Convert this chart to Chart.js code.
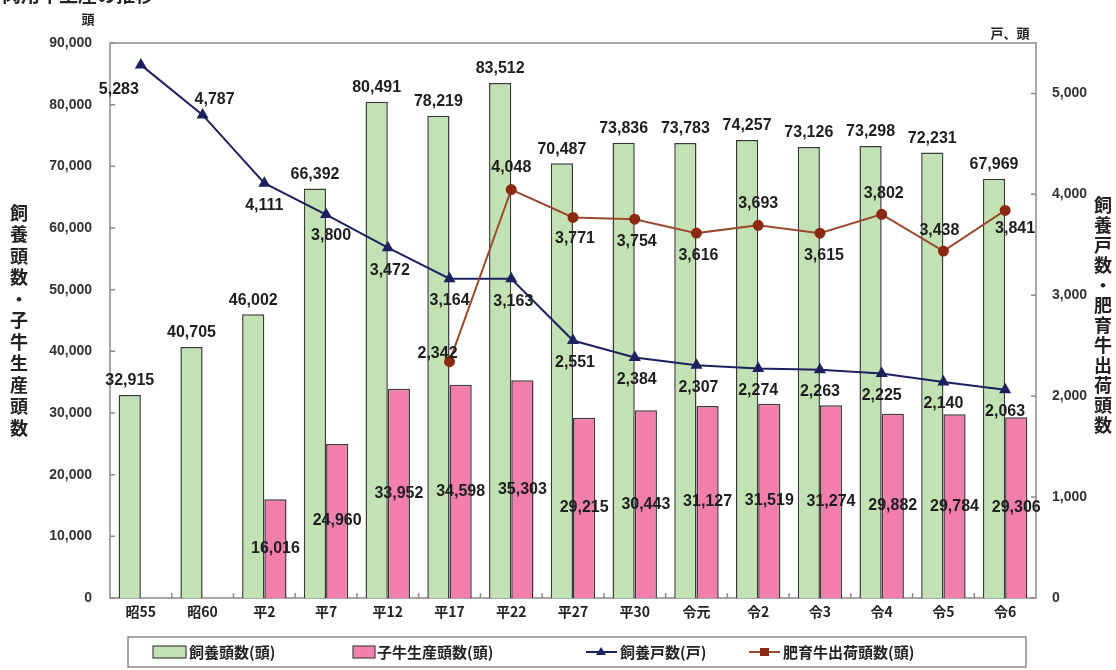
<!DOCTYPE html>
<html>
<head>
<meta charset="utf-8">
<script src="https://cdn.jsdelivr.net/npm/chart.js@4"></script>
<style>
  html, body { margin: 0; padding: 0; background: #fff; }
  #wrap { width: 1116px; height: 670px; position: relative; }
</style>
</head>
<body>
<div id="wrap"><canvas id="c" width="1116" height="670"></canvas></div>
<script>
// data
const categories = ['昭55', '昭60', '平2', '平7', '平12', '平17', '平22', '平27', '平30', '令元', '令2', '令3', '令4', '令5', '令6'];
const headCount = [32915, 40705, 46002, 66392, 80491, 78219, 83512, 70487, 73836, 73783, 74257, 73126, 73298, 72231, 67969];
const calfCount = [null, null, 16016, 24960, 33952, 34598, 35303, 29215, 30443, 31127, 31519, 31274, 29882, 29784, 29306];
const farmCount = [5283, 4787, 4111, 3800, 3472, 3164, 3163, 2551, 2384, 2307, 2274, 2263, 2225, 2140, 2063];
const shippedCount = [null, null, null, null, null, 2342, 4048, 3771, 3754, 3616, 3693, 3615, 3802, 3438, 3841];
const leftTicks = [0, 10000, 20000, 30000, 40000, 50000, 60000, 70000, 80000, 90000];
const rightTicks = [0, 1000, 2000, 3000, 4000, 5000];

const GREEN = '#c2e2b4', PINK = '#f27eab', NAVY = '#1d2160', BROWN = '#9a4a2e', BROWN_PT = '#8a2a12';
const NUM_FONT = 'bold 16px "Liberation Sans", Arial, sans-serif';
const JP_FONT = '"Noto Sans CJK JP", sans-serif';
const TICK_FONT = { family: '"Liberation Sans", Arial, sans-serif', size: 14, weight: 'bold' };

// label offsets for the line series (dx, dy from the point)
const farmOffsets = [[-22, 25], [12, -15], [0, 22], [5, 21], [2, 23], [0, 22], [2, 23], [2, 22], [2, 22], [2, 22], [0, 22], [0, 22], [0, 22], [0, 22], [0, 22]];
const shipOffsets = [null, null, null, null, null, [-12, -8], [0, -22], [2, 21], [2, 22], [2, 22], [0, -22], [4, 22], [2, -21], [-4, -20], [10, 18]];

const fmt = v => v.toLocaleString('en-US');

const labelPlugin = {
  id: 'valueLabels',
  afterDatasetsDraw(chart) {
    const ctx = chart.ctx;
    ctx.save();
    ctx.font = NUM_FONT;
    ctx.fillStyle = '#1e1e1e';
    ctx.textAlign = 'center';
    ctx.textBaseline = 'middle';
    chart.data.datasets.forEach((ds, di) => {
      const meta = chart.getDatasetMeta(di);
      meta.data.forEach((el, i) => {
        const v = ds.data[i];
        if (v == null) return;
        if (di === 0) {
          ctx.fillText(fmt(v), el.x, el.y - 14);
        } else if (di === 1) {
          ctx.fillText(fmt(v), el.x, (el.y + el.base) / 2);
        } else {
          const off = (di === 2 ? farmOffsets : shipOffsets)[i];
          ctx.fillText(fmt(v), el.x + off[0], el.y + off[1]);
        }
      });
    });
    ctx.restore();
  }
};

const framePlugin = {
  id: 'frame',
  beforeDatasetsDraw(chart) {
    const { ctx, chartArea: a, scales } = chart;
    ctx.save();
    ctx.strokeStyle = '#8a8a8a';
    ctx.lineWidth = 1.5;
    ctx.strokeRect(a.left, a.top, a.right - a.left, a.bottom - a.top);
    ctx.beginPath();
    leftTicks.forEach(t => { const y = scales.y.getPixelForValue(t); ctx.moveTo(a.left, y); ctx.lineTo(a.left + 5, y); });
    rightTicks.forEach(t => { const y = scales.y1.getPixelForValue(t); ctx.moveTo(a.right, y); ctx.lineTo(a.right - 5, y); });
    const step = (a.right - a.left) / categories.length;
    for (let i = 1; i < categories.length; i++) { const x = a.left + step * i; ctx.moveTo(x, a.bottom); ctx.lineTo(x, a.bottom - 5); }
    ctx.stroke();
    ctx.restore();
  },
  afterDraw(chart) {
    const ctx = chart.ctx;
    ctx.save();
    ctx.fillStyle = '#222';
    ctx.textBaseline = 'middle';
    // title, cut at the top edge as in the reference
    ctx.font = 'bold 19px ' + JP_FONT;
    ctx.textAlign = 'left';
    ctx.fillText('肉用牛生産の推移', 2, -5);
    ctx.textAlign = 'center';
    // units
    ctx.font = 'bold 13px ' + JP_FONT;
    ctx.fillText('頭', 88, 19);
    ctx.fillText('戸、頭', 1010, 33);
    // stacked vertical axis titles
    ctx.font = 'bold 18px ' + JP_FONT;
    const leftTitle = '飼養頭数・子牛生産頭数';
    [...leftTitle].forEach((ch, i) => ctx.fillText(ch, 19, 213 + i * 21.5));
    const rightTitle = '飼養戸数・肥育牛出荷頭数';
    [...rightTitle].forEach((ch, i) => ctx.fillText(ch, 1103, 205 + i * 20));
    // legend
    ctx.strokeStyle = '#8a8a8a';
    ctx.lineWidth = 1.5;
    ctx.strokeRect(128, 637, 898, 30);
    ctx.textAlign = 'left';
    ctx.font = 'bold 15px ' + JP_FONT;
    const ly = 652;
    ctx.lineWidth = 1.2;
    ctx.strokeStyle = '#444';
    ctx.fillStyle = GREEN; ctx.fillRect(153, ly - 6, 33, 12); ctx.strokeRect(153, ly - 6, 33, 12);
    ctx.fillStyle = PINK; ctx.fillRect(353, ly - 6, 22, 12); ctx.strokeRect(353, ly - 6, 22, 12);
    ctx.lineWidth = 2;
    ctx.strokeStyle = NAVY; ctx.beginPath(); ctx.moveTo(586, ly); ctx.lineTo(617, ly); ctx.stroke();
    ctx.fillStyle = NAVY; ctx.beginPath(); ctx.moveTo(601, ly - 5); ctx.lineTo(606, ly + 3); ctx.lineTo(596, ly + 3); ctx.closePath(); ctx.fill();
    ctx.strokeStyle = BROWN; ctx.beginPath(); ctx.moveTo(749, ly); ctx.lineTo(780, ly); ctx.stroke();
    ctx.fillStyle = BROWN_PT; ctx.fillRect(760, ly - 4, 9, 8);
    ctx.fillStyle = '#222';
    ctx.fillText('飼養頭数(頭)', 189, ly);
    ctx.fillText('子牛生産頭数(頭)', 377, ly);
    ctx.fillText('飼養戸数(戸)', 620, ly);
    ctx.fillText('肥育牛出荷頭数(頭)', 783, ly);
    ctx.restore();
  }
};

new Chart(document.getElementById('c'), {
  data: {
    labels: categories,
    datasets: [
      { type: 'bar', label: '飼養頭数(頭)', data: headCount, yAxisID: 'y', backgroundColor: GREEN, borderColor: '#3a3a3a', borderWidth: 1.5, order: 2, categoryPercentage: 0.72, barPercentage: 1.0 },
      { type: 'bar', label: '子牛生産頭数(頭)', data: calfCount, yAxisID: 'y', backgroundColor: PINK, borderColor: '#3a3a3a', borderWidth: 1.5, order: 2, categoryPercentage: 0.72, barPercentage: 1.0 },
      { type: 'line', label: '飼養戸数(戸)', data: farmCount, yAxisID: 'y1', borderColor: NAVY, backgroundColor: NAVY, borderWidth: 2, pointStyle: 'triangle', pointRadius: 5, tension: 0, order: 1 },
      { type: 'line', label: '肥育牛出荷頭数(頭)', data: shippedCount, yAxisID: 'y1', borderColor: BROWN, backgroundColor: BROWN_PT, pointBorderColor: BROWN_PT, borderWidth: 2, pointStyle: 'circle', pointRadius: 4.5, tension: 0, order: 0, spanGaps: false }
    ]
  },
  options: {
    responsive: false,
    animation: false,
    layout: { padding: { top: 43, bottom: 44, left: 0, right: 0 } },
    plugins: { legend: { display: false }, tooltip: { enabled: false } },
    scales: {
      x: {
        grid: { display: false, drawTicks: false },
        border: { display: false },
        ticks: { color: '#222', padding: 5, font: { family: JP_FONT, size: 14, weight: 'bold' } },
        afterFit: s => { s.height = 28; }
      },
      y: {
        position: 'left', min: 0, max: 90000,
        grid: { display: false, drawTicks: false },
        border: { display: false },
        afterBuildTicks: s => { s.ticks = leftTicks.map(v => ({ value: v })); },
        ticks: { padding: 18, color: '#333', font: TICK_FONT, autoSkip: false, callback: v => fmt(v) },
        afterFit: s => { s.width = 110; }
      },
      y1: {
        position: 'right', min: 0, max: 5500,
        grid: { display: false, drawTicks: false },
        border: { display: false },
        afterBuildTicks: s => { s.ticks = rightTicks.map(v => ({ value: v })); },
        ticks: { padding: 16, color: '#333', font: TICK_FONT, autoSkip: false, callback: v => fmt(v) },
        afterFit: s => { s.width = 80; }
      }
    }
  },
  plugins: [framePlugin, labelPlugin]
});
</script>
</body>
</html>
